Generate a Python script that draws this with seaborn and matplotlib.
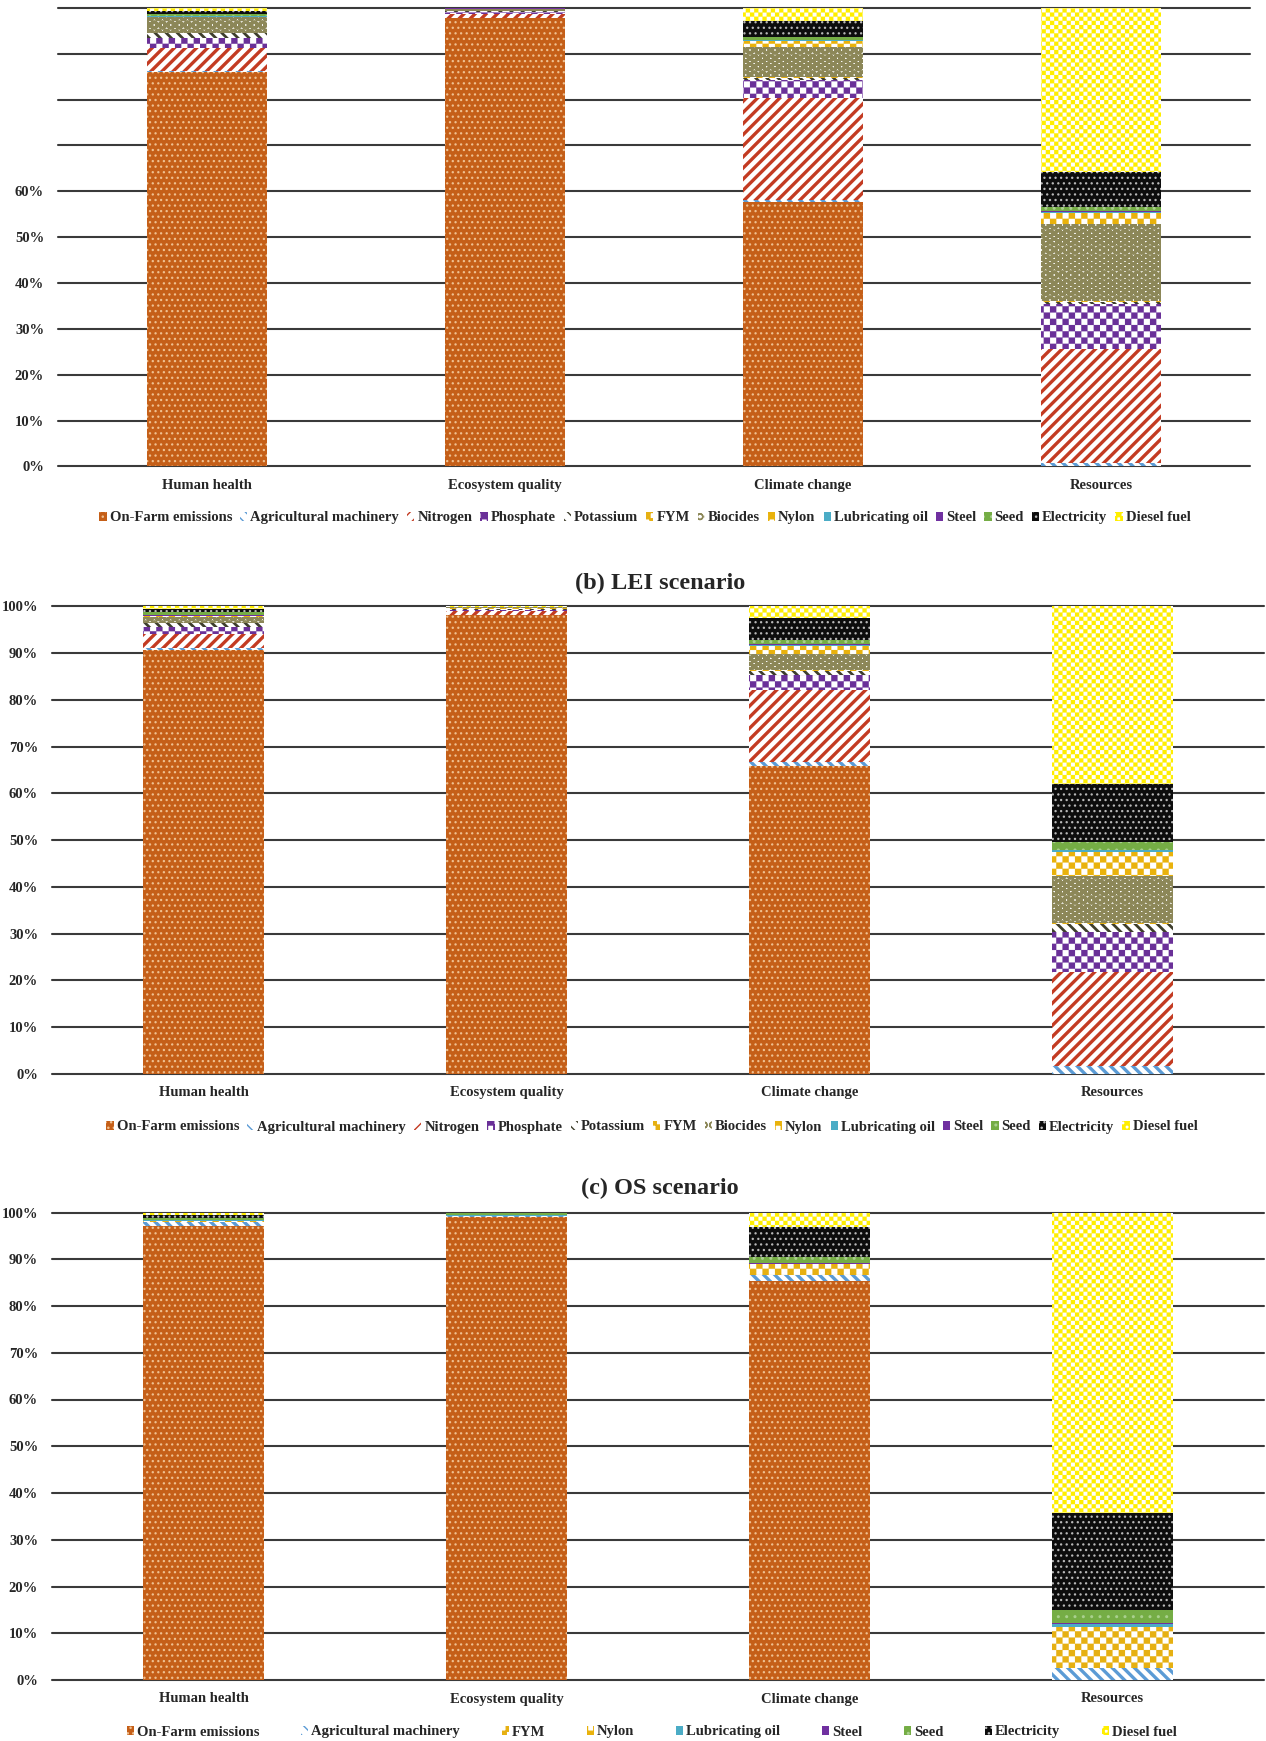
import numpy as np
import pandas as pd
import matplotlib
matplotlib.use("Agg")
import matplotlib.pyplot as plt
import matplotlib.hatch as mhatch
from matplotlib.path import Path
from matplotlib.patches import Patch
import seaborn as sns

# ---------------------------------------------------------------- data
categories = ["Human health", "Ecosystem quality", "Climate change", "Resources"]

sources = ["On-Farm emissions", "Agricultural machinery", "Nitrogen", "Phosphate",
           "Potassium", "FYM", "Biocides", "Nylon", "Lubricating oil", "Steel",
           "Seed", "Electricity", "Diesel fuel"]
os_sources = ["On-Farm emissions", "Agricultural machinery", "FYM", "Nylon",
              "Lubricating oil", "Steel", "Seed", "Electricity", "Diesel fuel"]

# contribution (%) of each source, in the order of `sources`
a_human_health = [85.9, 0.3, 5.0, 2.2, 1.1, 0.1, 3.3, 0.2, 0.1, 0.1, 0.4, 0.6, 0.7]
a_ecosystem_quality = [97.7, 0.1, 0.9, 0.4, 0.2, 0.05, 0.4, 0.05, 0.02, 0.03, 0.05, 0.05, 0.05]
a_climate_change = [57.6, 0.5, 22.2, 4.0, 0.5, 0.1, 6.6, 1.2, 0.2, 0.1, 0.6, 3.6, 2.8]
a_resources = [0.0, 0.7, 25.0, 9.8, 0.4, 0.1, 16.9, 2.3, 0.3, 0.2, 0.9, 7.7, 35.7]

lei_human_health = [90.6, 0.5, 2.9, 1.6, 0.8, 0.1, 1.2, 0.2, 0.1, 0.1, 0.6, 0.8, 0.5]
lei_ecosystem_quality = [98.1, 0.1, 0.8, 0.3, 0.2, 0.05, 0.2, 0.05, 0.02, 0.03, 0.05, 0.05, 0.05]
lei_climate_change = [65.9, 0.9, 15.3, 3.3, 0.8, 0.1, 3.5, 1.8, 0.2, 0.1, 0.9, 4.7, 2.5]
lei_resources = [0.0, 1.6, 20.2, 8.6, 1.7, 0.1, 10.1, 5.2, 0.3, 0.1, 1.7, 12.5, 37.9]

# organic scenario, in the order of `os_sources`
os_human_health = [97.2, 0.8, 0.2, 0.05, 0.05, 0.05, 0.4, 0.7, 0.55]
os_ecosystem_quality = [99.1, 0.1, 0.1, 0.05, 0.05, 0.05, 0.4, 0.1, 0.05]
os_climate_change = [85.4, 1.2, 2.2, 0.1, 0.1, 0.1, 1.3, 6.4, 3.2]
os_resources = [0.0, 2.6, 8.6, 0.2, 0.5, 0.3, 2.8, 20.7, 64.3]

yticks = [0, 10, 20, 30, 40, 50, 60, 70, 80, 90, 100]
ytick_labels_full = ["0%", "10%", "20%", "30%", "40%", "50%", "60%", "70%", "80%", "90%", "100%"]
ytick_labels_a = ["0%", "10%", "20%", "30%", "40%", "50%", "60%", "", "", "", ""]

panel_titles = ["(b) LEI scenario", "(c) OS scenario"]


# ------------------------------------------------------- checker hatch
class CheckerHatch(mhatch.HatchPatternBase):
    """Checkerboard fill, bound to the '*' hatch character."""

    def __init__(self, hatch, density):
        self.n = 2 * hatch.count("*")
        self.num_vertices = (self.n * self.n // 2) * 5 if self.n else 0

    def set_vertices_and_codes(self, vertices, codes):
        s = 1.0 / self.n
        squares = []
        for i in range(self.n):
            for j in range(self.n):
                if (i + j) % 2 == 0:
                    x0, y0 = i * s, j * s
                    squares.append([[x0, y0], [x0 + s, y0], [x0 + s, y0 + s],
                                    [x0, y0 + s], [x0, y0]])
        vertices[:] = np.asarray(squares).reshape(-1, 2)
        codes[:] = np.tile([Path.MOVETO, Path.LINETO, Path.LINETO, Path.LINETO,
                            Path.CLOSEPOLY], len(squares))


mhatch._hatch_types = [CheckerHatch if t is mhatch.Stars else t
                       for t in mhatch._hatch_types]

STYLE = {
    "On-Farm emissions":      dict(face="#C55F18", hatch="...", hc="#EFC090", hlw=0.9),
    "Agricultural machinery": dict(face="white", hatch="\\\\\\", hc="#5B9BD5", hlw=2.4),
    "Nitrogen":               dict(face="white", hatch="///", hc="#C33B22", hlw=2.4),
    "Phosphate":              dict(face="white", hatch="*" * 8, hc="#6A3098", hlw=0.1),
    "Potassium":              dict(face="white", hatch="\\\\\\", hc="#3E3E2C", hlw=2.0),
    "FYM":                    dict(face="white", hatch="*" * 8, hc="#E6B012", hlw=0.1),
    "Biocides":               dict(face="white", hatch="OO", hc="#8C8758", hlw=2.4),
    "Nylon":                  dict(face="white", hatch="*" * 8, hc="#E9B20C", hlw=0.1),
    "Lubricating oil":        dict(face="#4BACC6", hatch="", hc="#4BACC6", hlw=0.5),
    "Steel":                  dict(face="#7030A0", hatch="", hc="#7030A0", hlw=0.5),
    "Seed":                   dict(face="#75AD45", hatch="..", hc="#A9D08E", hlw=1.0),
    "Electricity":            dict(face="#0D0D0D", hatch="...", hc="#B8B8B8", hlw=0.9),
    "Diesel fuel":            dict(face="white", hatch="*" * 12, hc="#FFEE00", hlw=0.1),
}

# ---------------------------------------------------------------- style
sns.set_theme(style="white")
plt.rcParams["font.family"] = ["Liberation Serif", "DejaVu Serif"]
plt.rcParams["font.weight"] = "bold"

W, H = 1266, 1741
fig = plt.figure(figsize=(W / 100, H / 100), dpi=100)


def frac_box(left, right, top, bottom):
    return [left / W, 1 - bottom / H, (right - left) / W, (bottom - top) / H]


def draw_panel(ax, table, srcs, tick_labels):
    bottom = np.zeros(len(categories))
    for src in srcs:
        vals = table[src].to_numpy(dtype=float)
        st = STYLE[src]
        n0 = len(ax.patches)
        with plt.rc_context({"hatch.linewidth": st["hlw"]}):
            sns.barplot(x=categories, y=vals, ax=ax, color=st["face"], saturation=1,
                        width=0.4, errorbar=None, hatch=st["hatch"] or None,
                        edgecolor=st["hc"], linewidth=0, bottom=bottom)
        for p in ax.patches[n0:]:
            if hasattr(p, "set_hatch_linewidth"):
                p.set_hatch_linewidth(st["hlw"])
        bottom = bottom + vals
    ax.set_ylim(0, 100)
    ax.set_xlim(-0.5, len(categories) - 0.5)
    ax.set_yticks(yticks)
    ax.set_yticklabels(tick_labels)
    ax.set_xlabel("")
    ax.set_ylabel("")
    for s in ax.spines.values():
        s.set_visible(False)
    ax.set_axisbelow(True)
    ax.yaxis.grid(True, color="#3A3A3A", linewidth=1.5)
    ax.xaxis.grid(False)
    ax.tick_params(axis="y", length=0, pad=10, labelsize=10.5)
    ax.tick_params(axis="x", length=0, pad=9, labelsize=10.5)
    for lab in ax.get_xticklabels() + ax.get_yticklabels():
        lab.set_fontweight("bold")
    for t in ax.yaxis.get_major_ticks():
        t.gridline.set_clip_on(False)


def add_legend(srcs, cx, cy, colsp):
    handles = [Patch(facecolor=STYLE[s]["face"], edgecolor=STYLE[s]["hc"],
                     hatch=STYLE[s]["hatch"] or None, linewidth=0) for s in srcs]
    fig.legend(handles, srcs, loc="center", bbox_to_anchor=(cx / W, 1 - cy / H),
               ncol=len(srcs), frameon=False, handlelength=0.5, handleheight=0.55,
               handletextpad=0.2, columnspacing=colsp, borderaxespad=0,
               prop=dict(size=10.5, weight="bold"))


table_a = pd.DataFrame([a_human_health, a_ecosystem_quality, a_climate_change, a_resources],
                       index=categories, columns=sources)
table_lei = pd.DataFrame([lei_human_health, lei_ecosystem_quality, lei_climate_change,
                          lei_resources], index=categories, columns=sources)
table_os = pd.DataFrame([os_human_health, os_ecosystem_quality, os_climate_change,
                         os_resources], index=categories, columns=os_sources)

ax_a = fig.add_axes(frac_box(58, 1250, 7.8, 466.4))
draw_panel(ax_a, table_a, sources, ytick_labels_a)
add_legend(sources, 645, 518, 0.55)

ax_b = fig.add_axes(frac_box(52, 1264, 606.3, 1073.9))
draw_panel(ax_b, table_lei, sources, ytick_labels_full)
add_legend(sources, 652, 1127, 0.55)
fig.text(660 / W, 1 - 583 / H, panel_titles[0], ha="center", va="center",
         fontsize=17.5, fontweight="bold")

ax_c = fig.add_axes(frac_box(52, 1264, 1212.5, 1680))
draw_panel(ax_c, table_os, os_sources, ytick_labels_full)
add_legend(os_sources, 652, 1732, 2.85)
fig.text(660 / W, 1 - 1188 / H, panel_titles[1], ha="center", va="center",
         fontsize=17.5, fontweight="bold")

fig.savefig("out.png", dpi=100, facecolor="white")
